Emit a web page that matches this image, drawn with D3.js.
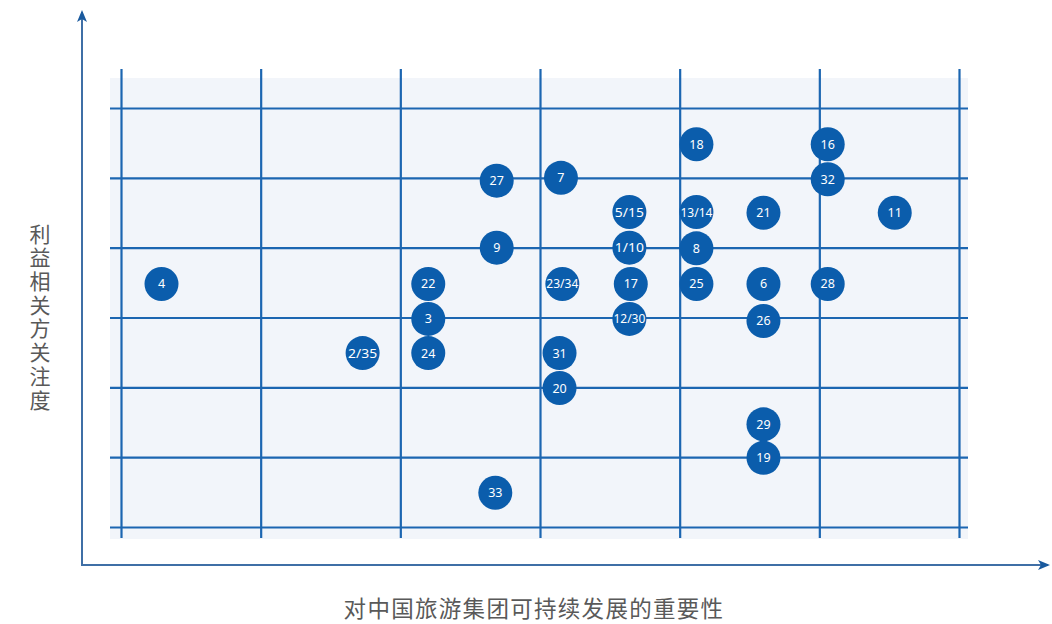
<!DOCTYPE html>
<html><head><meta charset="utf-8">
<script src="https://cdn.jsdelivr.net/npm/d3@7/dist/d3.min.js"></script>
<style>body{margin:0;background:#fff}svg{display:block}</style>
</head><body><svg id="c" width="1052" height="624"></svg>
<script>
const labels = ["4","22","3","24","2/35","27","9","33","7","23/34","31","20","5/15","1/10","17","12/30","18","13/14","8","25","21","6","26","29","19","16","32","28","11"];
const importance = [0.29,2.20,2.20,2.20,1.73,2.69,2.69,2.68,3.15,3.16,3.14,3.14,3.64,3.64,3.65,3.64,4.12,4.12,4.12,4.12,4.60,4.60,4.60,4.60,4.60,5.06,5.06,5.06,5.54];
const concern = [3.48,3.48,2.98,2.49,2.49,4.96,4.00,0.49,5.00,3.48,2.49,1.99,4.51,4.00,3.48,2.98,5.48,4.51,3.99,3.48,4.50,3.48,2.95,1.47,0.99,5.48,4.98,3.48,4.50];
const gridTicks = [0,1,2,3,4,5,6];
const xTitle = "对中国旅游集团可持续发展的重要性";
const yTitle = "利益相关方关注度";

const svg = d3.select("#c");
const x = d3.scaleLinear().domain([0,6]).range([121,959]);
const y = d3.scaleLinear().domain([0,6]).range([527,108]);
const blue = "#0b5dac";
const font = "'Noto Sans','Open Sans',sans-serif";
const cjk = "'Noto Sans CJK SC','Noto Sans',sans-serif";

svg.append("rect").attr("x",110).attr("y",78).attr("width",858).attr("height",461).attr("fill","#f2f5fa");

const defs = svg.append("defs");
defs.append("marker").attr("id","arr").attr("viewBox","0 0 12 10").attr("refX",10).attr("refY",5)
  .attr("markerWidth",12).attr("markerHeight",10).attr("markerUnits","userSpaceOnUse").attr("orient","auto")
  .append("path").attr("d","M0,0 L12,5 L0,10 L3,5 Z").attr("fill","#1a5a9e");

// grid via axes
svg.append("g").attr("transform","translate(0,538)")
  .call(d3.axisBottom(x).tickValues(gridTicks).tickSize(-469).tickFormat(""))
  .call(g=>{g.select(".domain").remove();g.selectAll("line").attr("stroke","#1c66b1").attr("stroke-width",2.2);});
svg.append("g").attr("transform","translate(110,0)")
  .call(d3.axisLeft(y).tickValues(gridTicks).tickSize(-858).tickFormat(""))
  .call(g=>{g.select(".domain").remove();g.selectAll("line").attr("stroke","#1c66b1").attr("stroke-width",2.2);});

// axes with arrows
svg.append("line").attr("x1",82).attr("y1",565).attr("x2",82).attr("y2",12)
  .attr("stroke","#3f6fa6").attr("stroke-width",2).attr("marker-end","url(#arr)");
svg.append("line").attr("x1",81).attr("y1",565).attr("x2",1048).attr("y2",565)
  .attr("stroke","#3f6fa6").attr("stroke-width",2).attr("marker-end","url(#arr)");

// points
const pts = labels.map((l,i)=>({l, x:importance[i], y:concern[i]}));
const g = svg.append("g");
g.selectAll("circle").data(pts).join("circle")
  .attr("cx",d=>x(d.x)).attr("cy",d=>y(d.y)).attr("r",17).attr("fill",blue);
g.selectAll("text").data(pts).join("text")
  .attr("x",d=>x(d.x)).attr("y",d=>y(d.y)+4.5).attr("text-anchor","middle")
  .attr("fill","#fff").attr("font-family",font).attr("font-size",12.5)
  .each(function(d){ if(d.l.length>=5){ d3.select(this).attr("textLength",32).attr("lengthAdjust","spacingAndGlyphs"); } else if(d.l.length==4){ d3.select(this).attr("textLength",29).attr("lengthAdjust","spacingAndGlyphs"); } })
  .text(d=>d.l);

// titles
svg.append("text").attr("x",534).attr("y",617).attr("text-anchor","middle")
  .attr("font-family",cjk).attr("font-size",22.5).attr("fill","#595959").attr("letter-spacing",1.3).text(xTitle);
svg.append("text").attr("x",40).attr("y",318).attr("text-anchor","middle")
  .attr("font-family",cjk).attr("font-size",21).attr("fill","#595959").attr("letter-spacing",2.7)
  .style("writing-mode","vertical-rl").style("text-orientation","upright")
  .text(yTitle);
</script></body></html>
